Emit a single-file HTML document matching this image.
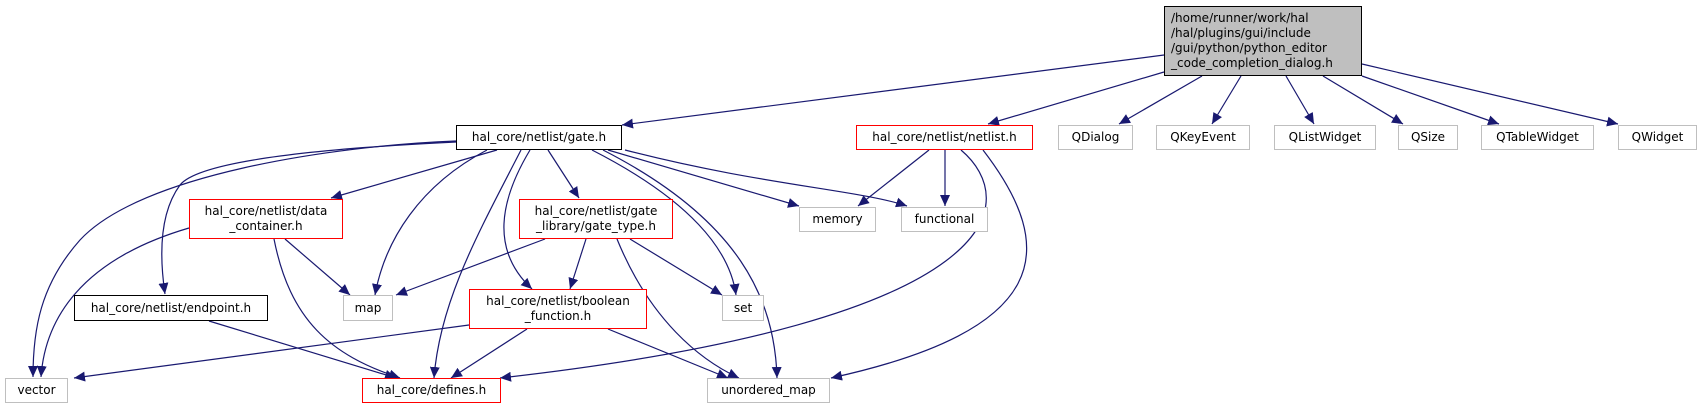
<!DOCTYPE html>
<html><head><meta charset="utf-8"><style>
html,body{margin:0;padding:0;background:#fff;}
body{width:1703px;height:409px;position:relative;overflow:hidden;font-family:"DejaVu Sans","Liberation Sans",sans-serif;font-size:12px;}
.n{position:absolute;box-sizing:border-box;border:1px solid #bfbfbf;background:#fff;color:#000;text-align:center;display:flex;align-items:center;justify-content:center;line-height:15px;white-space:nowrap;}
.r{border-color:#ff0000;}
.b{border-color:#000;}
svg{position:absolute;left:0;top:0;}
</style></head><body>
<svg width="1703" height="409" viewBox="0 0 1703 409">
<defs><marker id="a" markerUnits="userSpaceOnUse" markerWidth="12" markerHeight="10" refX="11" refY="5" orient="auto"><path d="M0,0 L11,5 L0,10 z" fill="#191970"/></marker></defs>
<g fill="none" stroke="#191970" stroke-width="1.2" marker-end="url(#a)">
<path d="M1164,55 L622,125"/>
<path d="M1164,72 L988,124"/>
<path d="M1202,76 L1119,124"/>
<path d="M1241,76 L1212,124"/>
<path d="M1286,76 L1314,124"/>
<path d="M1323,76 L1403,124"/>
<path d="M1362,76 L1499,124"/>
<path d="M1362,64 L1618,124"/>
<path d="M456,141 C330,146 140,175 80,240 C40,285 33,330 33,377"/>
<path d="M456,142 C330,148 200,160 180,185 C158,215 160,260 165,294"/>
<path d="M497,150 L331,198"/>
<path d="M487,150 C420,185 385,240 375,295"/>
<path d="M521,150 C480,230 440,300 434,378"/>
<path d="M530,150 C500,200 490,250 532,289"/>
<path d="M548,150 L579,198"/>
<path d="M592,150 C690,200 730,250 736,295"/>
<path d="M603,150 C740,220 775,300 777,378"/>
<path d="M608,150 L799,206"/>
<path d="M625,150 C760,185 860,190 907,206"/>
<path d="M929,150 L858,206"/>
<path d="M945,150 L945,206"/>
<path d="M961,150 C1020,200 1015,320 500,378"/>
<path d="M983,150 C1060,250 1050,330 831,378"/>
<path d="M189,228 C80,260 45,320 41,377"/>
<path d="M285,239 L350,295"/>
<path d="M274,239 C290,320 330,355 400,378"/>
<path d="M545,239 L396,295"/>
<path d="M586,239 L570,289"/>
<path d="M630,239 L722,295"/>
<path d="M617,239 C650,320 700,360 739,378"/>
<path d="M469,325 L74,378"/>
<path d="M527,329 L451,378"/>
<path d="M608,329 L728,378"/>
<path d="M209,321 L396,378"/>
</g>
</svg>
<div class="n b" style="left:1164px;top:6px;width:198px;height:70px;background:#bfbfbf;justify-content:flex-start;text-align:left;padding-left:6px;">/home/runner/work/hal<br>/hal/plugins/gui/include<br>/gui/python/python_editor<br>_code_completion_dialog.h</div>
<div class="n b" style="left:456px;top:125px;width:166px;height:25px;">hal_core/netlist/gate.h</div>
<div class="n r" style="left:856px;top:125px;width:177px;height:25px;">hal_core/netlist/netlist.h</div>
<div class="n" style="left:1058px;top:125px;width:75px;height:25px;">QDialog</div>
<div class="n" style="left:1156px;top:125px;width:94px;height:25px;">QKeyEvent</div>
<div class="n" style="left:1274px;top:125px;width:102px;height:25px;">QListWidget</div>
<div class="n" style="left:1398px;top:125px;width:60px;height:25px;">QSize</div>
<div class="n" style="left:1481px;top:125px;width:113px;height:25px;">QTableWidget</div>
<div class="n" style="left:1618px;top:125px;width:79px;height:25px;">QWidget</div>
<div class="n r" style="left:189px;top:199px;width:154px;height:40px;">hal_core/netlist/data<br>_container.h</div>
<div class="n r" style="left:519px;top:199px;width:154px;height:40px;">hal_core/netlist/gate<br>_library/gate_type.h</div>
<div class="n" style="left:799px;top:207px;width:77px;height:25px;">memory</div>
<div class="n" style="left:901px;top:207px;width:87px;height:25px;">functional</div>
<div class="n b" style="left:74px;top:295px;width:194px;height:26px;">hal_core/netlist/endpoint.h</div>
<div class="n" style="left:343px;top:295px;width:50px;height:26px;">map</div>
<div class="n r" style="left:469px;top:289px;width:178px;height:40px;">hal_core/netlist/boolean<br>_function.h</div>
<div class="n" style="left:722px;top:295px;width:42px;height:26px;">set</div>
<div class="n" style="left:5px;top:378px;width:63px;height:25px;">vector</div>
<div class="n r" style="left:362px;top:378px;width:139px;height:25px;">hal_core/defines.h</div>
<div class="n" style="left:707px;top:378px;width:123px;height:25px;">unordered_map</div>
</body></html>
